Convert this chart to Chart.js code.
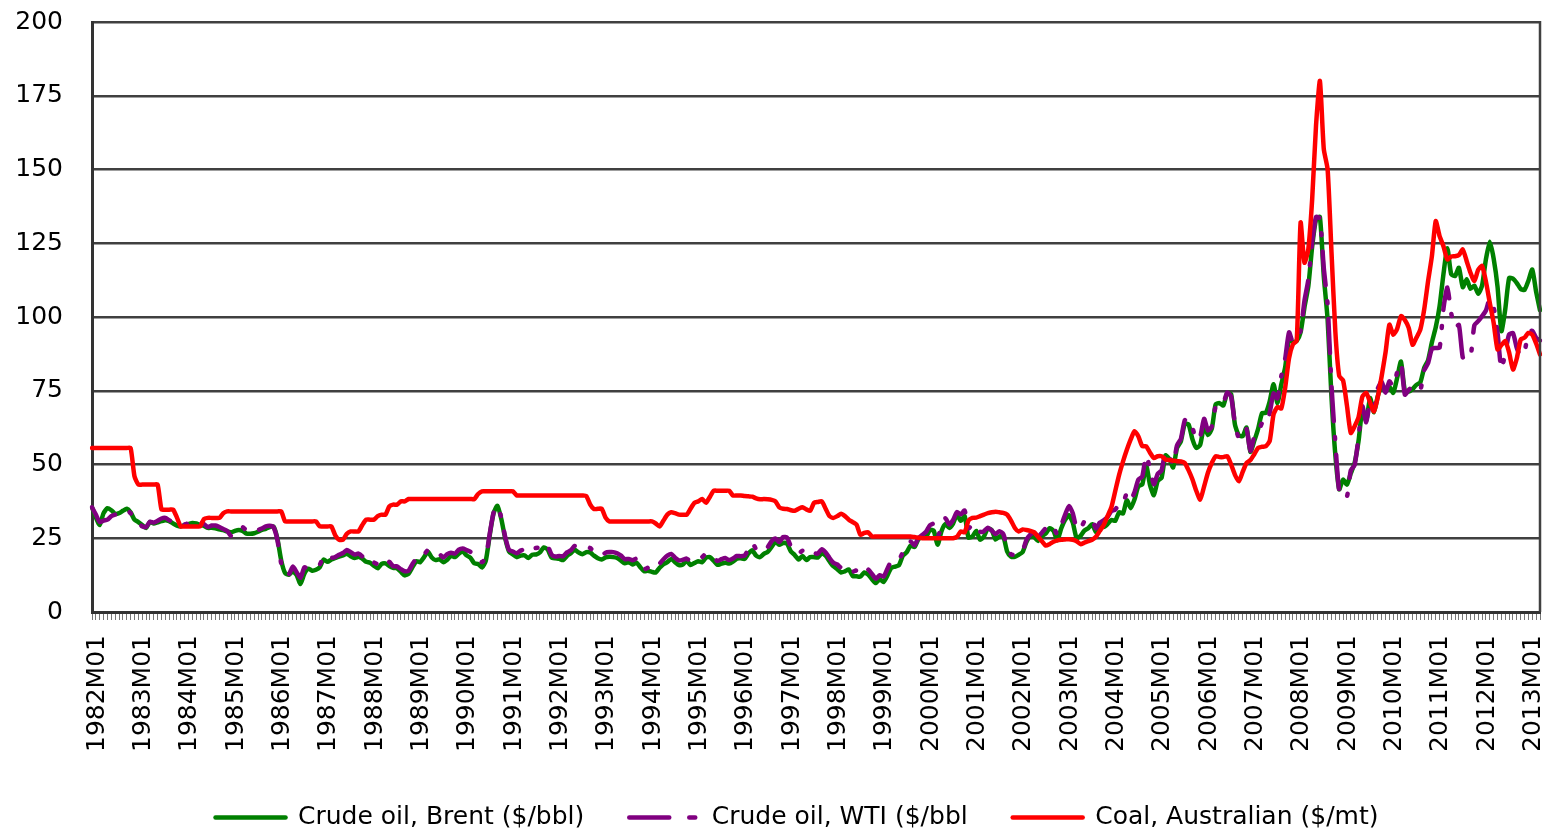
<!DOCTYPE html>
<html>
<head>
<meta charset="utf-8">
<script src="https://cdn.jsdelivr.net/npm/chart.js@4.4.1/dist/chart.umd.min.js"></script>
<style>
  html, body { margin: 0; padding: 0; background: #fff; }
  canvas { display: block; }
</style>
</head>
<body>
<canvas id="priceChart" width="1544" height="830"></canvas>
<script>
// monthly series 1982M01 .. 2013M04, one year per row
const brent = [
  35.5, 32.0, 29.5, 33.5, 35.2, 34.5, 33.3, 33.5, 34.3, 35.0, 33.8, 31.3,
  30.5, 29.5, 28.5, 30.5, 30.0, 30.4, 30.8, 31.1, 30.8, 30.0, 29.3, 29.0,
  29.5, 29.8, 30.2, 30.0, 29.5, 29.2, 28.5, 28.6, 28.4, 28.0, 27.8, 27.3,
  27.0, 27.5, 27.8, 27.5, 26.6, 26.5, 26.7, 27.2, 27.8, 28.2, 28.8, 29.0,
  25.0, 17.5, 13.2, 12.6, 13.8, 12.5, 9.5, 13.0, 14.7, 14.0, 14.3, 15.2,
  17.8, 17.0, 17.8, 18.3, 18.8, 19.2, 19.8, 18.9, 18.3, 18.7, 18.1, 17.0,
  16.7, 15.7, 14.8, 16.3, 16.5, 15.6, 15.0, 14.8, 13.6, 12.4, 13.0, 15.2,
  17.2, 16.9, 18.6, 20.4, 18.5, 17.6, 17.9, 16.9, 17.7, 19.1, 18.6, 19.8,
  20.6, 19.2, 18.4, 16.5, 16.3, 15.1, 17.5, 26.0, 33.5, 36.0, 31.5, 25.0,
  20.5, 19.5, 18.6, 19.1, 19.2, 18.3, 19.4, 19.5, 20.2, 21.9, 21.2, 18.5,
  18.2, 18.0, 17.6, 19.0, 19.9, 21.1, 20.2, 19.6, 20.3, 20.2, 19.1, 18.2,
  17.8, 18.5, 18.7, 18.6, 18.3, 17.4, 16.5, 16.9, 16.1, 16.7, 15.2, 13.8,
  14.0, 13.6, 13.4, 15.0, 16.2, 16.9, 18.0, 16.9, 15.9, 16.1, 17.4, 15.9,
  16.6, 17.2, 16.9, 18.4, 18.6, 17.4, 16.0, 16.4, 16.7, 16.4, 17.1, 18.1,
  18.2, 18.0, 19.8, 20.9, 19.1, 18.6, 19.7, 20.4, 22.1, 23.8, 22.8, 23.4,
  23.2, 20.5, 19.3, 17.8, 19.0, 17.6, 18.6, 18.6, 18.5, 19.9, 19.1, 17.2,
  15.5, 14.5, 13.4, 13.8, 14.4, 12.2, 12.1, 12.0, 13.4, 12.7, 11.1, 9.8,
  11.1, 10.2, 12.4, 15.0, 15.4, 15.9, 19.1, 20.3, 22.5, 22.0, 24.6, 25.5,
  25.5, 27.8, 27.5, 22.8, 27.4, 29.8, 28.5, 30.0, 33.0, 30.9, 32.5, 25.2,
  25.6, 27.5, 24.5, 25.6, 28.3, 27.8, 24.6, 25.6, 25.7, 20.5, 18.8, 18.7,
  19.4, 20.3, 23.7, 25.7, 25.4, 24.1, 25.7, 26.6, 28.4, 27.5, 24.3, 28.3,
  31.2, 32.8, 30.3, 25.0, 25.8, 27.6, 28.4, 29.8, 27.1, 29.6, 28.8, 29.8,
  31.2, 30.9, 33.8, 33.4, 37.9, 35.2, 38.2, 42.7, 43.2, 49.8, 43.1, 39.6,
  44.5, 45.5, 53.1, 51.9, 49.0, 55.6, 57.9, 63.8, 63.6, 58.5, 55.6, 56.7,
  62.9, 60.0, 62.1, 70.4, 70.8, 70.0, 74.2, 73.9, 63.5, 59.9, 59.6, 62.5,
  54.3, 58.0, 62.1, 67.4, 67.5, 71.4, 77.2, 70.8, 77.1, 82.9, 92.5, 91.5,
  91.9, 94.8, 103.3, 110.4, 123.9, 133.1, 133.9, 113.9, 99.1, 72.8, 53.2, 41.6,
  44.9, 43.2, 47.0, 50.6, 57.9, 68.6, 64.9, 72.5, 67.7, 73.2, 77.0, 74.7,
  76.4, 74.3, 79.3, 84.9, 75.0, 74.7, 75.6, 77.0, 77.8, 82.7, 85.3, 91.4,
  96.5, 103.7, 114.6, 123.3, 114.5, 113.9, 116.7, 110.1, 112.8, 109.6, 110.6, 107.9,
  110.7, 119.6, 125.5, 119.8, 110.3, 95.2, 102.6, 113.2, 113.0, 111.5, 109.5, 109.2,
  112.3, 116.1, 108.5, 102.3
];

const wti = [
  35.5, 33.0, 30.5, 31.0, 31.3, 32.5, 33.0, 33.3, 34.0, 34.5, 33.5, 31.5,
  30.5, 29.0, 28.8, 30.6, 30.3, 30.9, 31.7, 31.9, 31.1, 30.4, 29.8, 29.3,
  29.7, 30.1, 30.8, 30.6, 30.5, 29.8, 28.8, 29.3, 29.3, 28.8, 28.1, 27.5,
  25.8, 27.3, 28.2, 28.8, 27.6, 27.1, 27.3, 27.8, 28.3, 29.0, 29.2, 28.8,
  24.5, 16.5, 13.0, 12.8, 15.4, 13.5, 11.6, 15.1, 14.9, 14.9, 15.2, 16.1,
  18.7, 17.7, 18.3, 18.6, 19.4, 20.0, 21.0, 20.3, 19.5, 19.8, 18.8, 16.8,
  17.0, 16.8, 16.2, 17.9, 17.5, 17.0, 15.5, 15.5, 14.5, 13.8, 14.0, 16.3,
  18.0, 17.8, 19.4, 21.0, 20.0, 20.0, 19.6, 18.5, 19.6, 20.1, 19.8, 21.1,
  21.5, 21.0, 20.4, 18.5, 18.2, 16.9, 18.6, 26.5, 33.7, 35.9, 32.0, 25.5,
  21.0, 20.5, 19.9, 20.8, 21.2, 20.2, 21.4, 21.7, 21.9, 23.2, 22.5, 19.5,
  18.8, 19.0, 18.9, 20.2, 20.9, 22.4, 21.8, 21.4, 21.9, 21.7, 20.3, 19.4,
  19.1, 20.1, 20.3, 20.3, 19.9, 19.1, 17.9, 18.0, 17.5, 18.1, 16.7, 14.5,
  15.0, 14.8, 14.7, 16.4, 17.9, 19.1, 19.7, 18.4, 17.5, 17.7, 18.1, 17.2,
  18.0, 18.5, 18.6, 19.9, 19.7, 18.4, 17.3, 17.9, 18.3, 17.6, 18.1, 19.0,
  18.9, 19.1, 21.3, 23.5, 21.2, 20.4, 21.3, 22.0, 24.0, 24.9, 23.7, 25.4,
  25.2, 22.2, 20.9, 19.7, 20.8, 19.2, 19.6, 19.9, 19.8, 21.3, 20.2, 18.3,
  16.7, 16.1, 15.0, 15.4, 14.9, 13.7, 14.1, 13.4, 15.0, 14.4, 12.9, 11.3,
  12.5, 12.0, 14.7, 17.3, 17.8, 17.9, 20.1, 21.3, 23.9, 22.6, 25.0, 26.1,
  27.2, 29.4, 29.9, 25.7, 28.8, 31.8, 29.7, 31.2, 33.9, 33.1, 34.4, 28.4,
  29.6, 29.6, 27.2, 27.4, 28.6, 27.6, 26.4, 27.4, 26.4, 22.2, 19.6, 19.3,
  19.7, 20.7, 24.4, 26.2, 27.0, 25.5, 26.9, 28.4, 29.7, 28.8, 26.3, 29.4,
  32.9, 35.9, 33.5, 28.3, 28.1, 30.7, 30.8, 31.6, 28.3, 30.3, 31.1, 32.2,
  34.3, 34.7, 36.8, 36.7, 40.3, 38.0, 40.7, 44.9, 45.9, 53.1, 48.5, 43.3,
  46.8, 48.0, 54.3, 53.0, 50.0, 56.5, 58.7, 65.0, 65.5, 62.4, 58.3, 59.4,
  65.5, 61.6, 62.9, 69.7, 70.9, 70.9, 74.4, 73.0, 63.8, 58.9, 59.1, 62.0,
  54.6, 59.3, 60.6, 64.0, 63.5, 67.5, 74.1, 72.4, 79.9, 85.8, 94.8, 91.4,
  93.0, 95.4, 105.5, 112.6, 125.4, 133.9, 133.4, 116.7, 104.1, 76.6, 57.3, 41.1,
  41.7, 39.1, 48.0, 49.8, 59.2, 69.7, 64.3, 71.1, 69.5, 75.8, 78.1, 74.3,
  78.2, 76.4, 81.2, 84.3, 73.7, 75.3, 76.3, 76.6, 75.2, 81.9, 84.3, 89.2,
  89.5, 89.6, 102.9, 110.0, 101.3, 96.3, 97.3, 86.3, 85.5, 86.3, 97.2, 98.6,
  100.3, 102.2, 106.2, 103.3, 94.7, 82.3, 87.9, 94.1, 94.5, 89.5, 86.7, 88.2,
  94.8, 95.3, 92.9, 92.0
];

const coal = [
  55.6, 55.6, 55.6, 55.6, 55.6, 55.6, 55.6, 55.6, 55.6, 55.6, 55.6, 46.0,
  43.2, 43.2, 43.2, 43.2, 43.2, 43.2, 34.7, 34.7, 34.7, 34.7, 32.0, 29.0,
  29.0, 29.0, 29.0, 29.0, 29.0, 31.5, 31.9, 31.9, 31.9, 31.9, 33.5, 34.1,
  34.1, 34.1, 34.1, 34.1, 34.1, 34.1, 34.1, 34.1, 34.1, 34.1, 34.1, 34.1,
  34.1, 34.1, 30.7, 30.7, 30.7, 30.7, 30.7, 30.7, 30.7, 30.7, 30.7, 29.0,
  29.0, 29.0, 29.0, 26.0, 24.5, 24.5, 26.5, 27.3, 27.3, 27.3, 29.5, 31.3,
  31.3, 31.3, 32.5, 33.0, 33.0, 35.8, 36.4, 36.4, 37.5, 37.5, 38.3, 38.3,
  38.3, 38.3, 38.3, 38.3, 38.3, 38.3, 38.3, 38.3, 38.3, 38.3, 38.3, 38.3,
  38.3, 38.3, 38.3, 38.3, 40.0, 40.9, 40.9, 40.9, 40.9, 40.9, 40.9, 40.9,
  40.9, 40.9, 39.5, 39.5, 39.5, 39.5, 39.5, 39.5, 39.5, 39.5, 39.5, 39.5,
  39.5, 39.5, 39.5, 39.5, 39.5, 39.5, 39.5, 39.5, 39.3, 36.5, 34.9, 35.0,
  35.0, 32.0, 30.7, 30.7, 30.7, 30.7, 30.7, 30.7, 30.7, 30.7, 30.7, 30.7,
  30.7, 30.7, 30.0, 29.0, 31.0, 33.0, 33.8, 33.5, 33.0, 33.0, 33.0, 35.0,
  37.0, 37.5, 38.3, 37.0, 39.0, 41.1, 41.1, 41.1, 41.1, 41.1, 39.5, 39.5,
  39.5, 39.3, 39.2, 39.1, 38.5, 38.2, 38.3, 38.2, 38.0, 37.5, 35.5, 35.0,
  34.9, 34.5, 34.3, 35.0, 35.5, 34.8, 34.3, 37.0, 37.3, 37.5, 35.0, 32.5,
  31.9, 32.5, 33.3, 32.5, 31.3, 30.5, 29.6, 26.2, 26.8, 27.0, 25.6, 25.6,
  25.6, 25.6, 25.6, 25.6, 25.6, 25.6, 25.6, 25.6, 25.6, 25.4, 25.2, 25.0,
  25.0, 25.0, 25.0, 25.0, 25.0, 25.0, 25.0, 25.0, 25.5, 27.3, 27.0, 31.0,
  31.9, 32.0, 32.5, 33.0, 33.5, 33.8, 34.0, 33.8, 33.6, 33.0, 31.0, 28.5,
  27.3, 28.0, 27.8, 27.5, 27.0, 25.5, 24.0, 22.5, 23.0, 23.8, 24.3, 24.5,
  24.6, 24.7, 24.5, 24.0, 23.0, 23.5, 24.0, 24.5, 25.5, 27.5, 29.5, 32.5,
  35.5, 41.0, 46.5, 51.0, 55.0, 58.5, 61.3, 59.5, 56.2, 56.2, 54.0, 52.2,
  52.8, 52.8, 51.7, 51.5, 51.3, 51.1, 51.0, 50.5, 48.0, 44.9, 41.0, 38.1,
  42.5, 47.2, 50.5, 52.8, 52.5, 52.5, 52.8, 50.0, 46.5, 44.3, 47.5, 50.5,
  51.5, 53.5, 55.6, 56.0, 56.2, 58.0, 67.0, 69.5, 69.0, 76.0, 86.0, 90.7,
  92.0, 132.0, 118.4, 123.0, 140.0, 165.0, 180.0, 157.0, 150.0, 122.0, 95.0, 80.0,
  78.5, 70.0, 60.7, 63.0, 66.0, 73.0, 74.3, 71.0, 68.0, 73.0, 80.0, 88.0,
  97.4, 94.0, 96.0, 100.3, 99.0, 96.3, 90.6, 93.0, 95.7, 102.5, 112.0, 120.6,
  132.5, 127.4, 124.0, 119.5, 120.5, 120.6, 121.0, 122.9, 119.0, 115.0, 112.2, 116.0,
  117.3, 112.0, 104.8, 98.0, 89.0, 90.5, 91.8, 88.0, 82.2, 86.0, 92.4, 93.0,
  94.6, 94.0, 91.0, 87.3
];

const seriesNames = ['Crude oil, Brent ($/bbl)', 'Crude oil, WTI ($/bbl', 'Coal, Australian ($/mt)'];
const seriesColors = ['#008000', '#800080', '#ff0000'];
const yTicks = [0, 25, 50, 75, 100, 125, 150, 175, 200];

const firstYear = 1982;
const months = brent.map((_, k) => {
  const y = firstYear + Math.floor(k / 12);
  const m = String(k % 12 + 1).padStart(2, '0');
  return y + 'M' + m;
});

const FONT = 'Verdana, "DejaVu Sans", sans-serif';
const wtiDash = [34, 16, 2, 16];
const legendDash = [[], [40, 20, 6, 200], []];

// frame line on the right side of the plot
const frameRight = {
  id: 'frameRight',
  afterDraw(chart) {
    const { ctx, chartArea } = chart;
    ctx.save();
    ctx.strokeStyle = '#404040';
    ctx.lineWidth = 2.5;
    ctx.beginPath();
    ctx.moveTo(chartArea.right, chartArea.top - 1);
    ctx.lineTo(chartArea.right, chartArea.bottom);
    ctx.stroke();
    ctx.restore();
  }
};

// legend sits a little right of and below where chart.js centres it
const legendShift = {
  id: 'legendShift',
  afterLayout(chart) {
    const lg = chart.legend;
    lg.left += 20;
    lg.right += 20;
    lg.top += 10;
    lg.bottom += 10;
  }
};

const ctx = document.getElementById('priceChart').getContext('2d');

new Chart(ctx, {
  type: 'line',
  data: {
    labels: months,
    datasets: [
      { label: seriesNames[0], data: brent, borderColor: seriesColors[0], order: 3 },
      { label: seriesNames[1], data: wti, borderColor: seriesColors[1], borderDash: wtiDash, order: 2 },
      { label: seriesNames[2], data: coal, borderColor: seriesColors[2], order: 1 }
    ]
  },
  options: {
    responsive: false,
    animation: false,
    devicePixelRatio: 1,
    layout: { padding: { left: 14, right: 4, top: 22, bottom: 0 } },
    elements: {
      point: { radius: 0, hoverRadius: 0 },
      line: { borderWidth: 4.5, tension: 0.2, fill: false, borderCapStyle: 'round', borderJoinStyle: 'round' }
    },
    scales: {
      x: {
        offset: false,
        afterFit(scale) {
          scale.paddingLeft = 0;
          scale.paddingRight = 0;
          scale.paddingTop = 0;
          scale.paddingBottom = 0;
          scale.height = 138;
        },
        grid: { drawOnChartArea: false, drawTicks: true, tickLength: 8, color: '#777', lineWidth: 1 },
        border: { color: '#333', width: 3 },
        ticks: {
          autoSkip: false,
          minRotation: 90,
          maxRotation: 90,
          padding: 15,
          labelOffset: 5,
          color: '#000',
          font: { family: FONT, size: 25 },
          callback(val) {
            const l = this.getLabelForValue(val);
            return l.endsWith('M01') ? l : '';
          }
        }
      },
      y: {
        min: 0,
        max: 200,
        afterBuildTicks(scale) { scale.ticks = yTicks.map(v => ({ value: v })); },
        afterFit(scale) {
          scale.width = 78;
          scale.paddingTop = 0;
          scale.paddingBottom = 0;
        },
        grid: { color: '#404040', lineWidth: 2.5, drawTicks: false },
        border: { color: '#333', width: 3 },
        ticks: { padding: 29, color: '#000', font: { family: FONT, size: 25 } }
      }
    },
    plugins: {
      tooltip: { enabled: false },
      legend: {
        position: 'bottom',
        labels: {
          usePointStyle: true,
          pointStyle: 'line',
          pointStyleWidth: 70,
          padding: 45,
          color: '#000',
          font: { family: FONT, size: 25 },
          generateLabels(chart) {
            return chart.data.datasets.map((ds, i) => ({
              text: ds.label,
              datasetIndex: i,
              hidden: false,
              fillStyle: ds.borderColor,
              strokeStyle: ds.borderColor,
              lineWidth: 4.5,
              lineCap: 'round',
              lineDash: legendDash[i],
              lineDashOffset: 0,
              pointStyle: 'line',
              fontColor: '#000'
            }));
          }
        }
      }
    }
  },
  plugins: [frameRight, legendShift]
});
</script>
</body>
</html>
